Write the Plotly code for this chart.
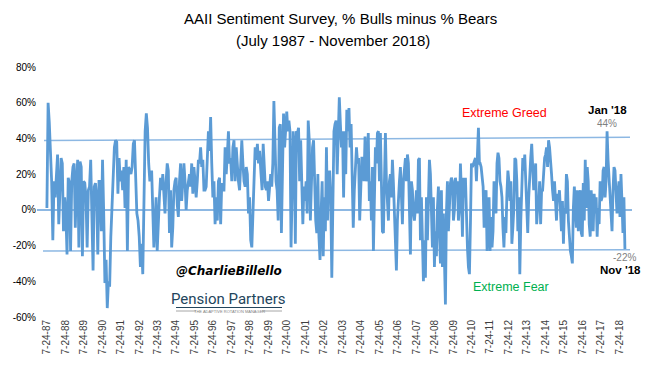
import pandas as pd
import numpy as np
import plotly.graph_objects as go

# ---- Data: AAII Bulls minus Bears spread (%), in segments ----
seg1_dates = ("1987-07-24", "1993-02-18")
seg1_vals = [1, 60, 49, 31, 16, -17, 16, 7, 20, 31, -8, 16, 29, 26, -12, 7, -2, -25, 18, 15,
             -23, 16, 24, 26, -10, 16, 28, -21, 27, 24, -26, 16, 15, 7, -21, 11, 13, 28, -8, -34,
             13, 15, 7, -25, 16, 16, -12, 28, -2, -41, -28, -55, -40, -43, -15, 0, 22, 35, 39, 38,
             9, 29, 16, 22, 11, 24, 1, 28, -23, 24, 22, 20, 24, 37, 39, 16, -2, -6, -15, -32,
             -19, -36, 20, 44, 54, 46, 26, 16]
seg2_dates = ("1993-03-25", "1999-01-28")
seg2_vals = [22, -6, -21, -8, 7, -23, -2, 7, 18, 11, 20, 5, -2, 16, 26, 22, -13, 11, -21, -10,
             11, 16, 18, 3, -4, 16, 26, 5, 15, 26, 16, 0, 11, 16, 20, 13, 26, 9, 24, 16,
             7, 16, 28, 26, 35, 24, 28, 11, 11, 13, 28, 44, 33, 52, 26, 7, 16, -8, 7, -6,
             16, 18, -8, 15, 11, 11, 35, 20, 31, 44, 26, 29, 16, 35, 39, 16, 35, 22, 16, 11,
             22, 39, 26, 16, 13, 24, 20, -2, 7, -17, -21, -2, 11, 35, 28, 37, 26, 33]
seg3_dates = ("1999-02-25", "2005-01-06")
seg3_vals = [20, 11, 37, 26, 13, 11, 16, 5, 16, 20, 13, 26, 61, 44, 16, 11, -6, 46, 48, -13,
             16, 54, 35, 50, 55, 44, 50, 44, -21, 9, 44, 35, -19, 44, 43, 46, 16, 39, 16, -8,
             13, 5, 16, -2, 50, 39, -6, 16, 35, 39, 11, -6, -13, 20, -15, -28, -2, 16, -26, 7,
             -12, 35, -6, 16, 22, 7, -38, 7, 44, 48, 50, 20, 50, 63, 48, 35, 44, 7, 44, 20,
             56, 44, 57, 35, 48, 16, -10, 11, 20, 35, 26, 29, -6, 7, 29, 29, 16, 41, 16, 24,
             43, 5]
seg4_dates = ("2005-01-27", "2010-12-23")
seg4_vals = [16, -6, 24, -23, 16, 35, 26, 43, 44, 16, 43, 7, -12, -13, 26, 43, 16, 1, -6, 16,
             20, 7, 28, 15, -6, -21, -34, -6, 11, 16, 24, 7, -8, 16, 24, 29, 16, 31, 26, -12,
             -25, 16, 11, -2, -6, 1, 11, -2, 28, 29, -17, 7, -21, -40, -17, -38, 7, -17, 5, 28,
             20, -10, -21, 7, -32, -12, -26, 1, 13, -12, -30, 11, -32, -2, -36, -53, -2, 16, -12, 7,
             15, 18, 16, -6, 0, 18, 13, 16, -6, 1, 26, 9, -15, 18, 7, 18, -10, -21, -32, -36,
             -8, 26, 24, 26, 28, 29, 16, 35, 46, 26]
seg5_dates = ("2011-01-06", "2018-11-08")
seg5_vals = [26, 24, 16, 13, -10, 7, 11, -23, -2, 7, -23, -4, -21, -12, 16, 5, -2, 26, 32, 29,
             16, 13, 7, -10, -21, -4, -13, 9, 22, 16, 5, 16, -19, -10, 1, 29, 28, 16, -12, 7,
             -36, -6, 16, 29, 22, 31, 16, 5, -13, 7, 22, 29, 37, 26, 11, 20, 26, -8, 1, 3,
             16, -8, 11, 11, 20, 29, 31, 35, 24, 39, 35, 29, 20, 11, 5, 16, 7, -6, 9, 5,
             11, -2, -12, 5, -19, 1, -2, 20, 16, -6, -15, -23, -26, -30, 1, 13, 0, -10, 11, -12,
             7, 11, -13, -15, 15, -6, 28, 1, 24, 16, -8, -15, 11, 1, -12, 9, -2, 7, -15, 1,
             -8, 16, 5, 7, 22, 24, 7, 16, 44, 28, 18, 15, 5, -12, 11, 24, 22, 13, -2, 9,
             16, -4, 20, 5, -13, 7, -22]

segments = [(seg1_dates, seg1_vals), (seg2_dates, seg2_vals), (seg3_dates, seg3_vals),
            (seg4_dates, seg4_vals), (seg5_dates, seg5_vals)]

tick_labels = ["7-24-87", "7-24-88", "7-24-89", "7-24-90", "7-24-91", "7-24-92", "7-24-93",
               "7-24-94", "7-24-95", "7-24-96", "7-24-97", "7-24-98", "7-24-99", "7-24-00",
               "7-24-01", "7-24-02", "7-24-03", "7-24-04", "7-24-05", "7-24-06", "7-24-07",
               "7-24-08", "7-24-09", "7-24-10", "7-24-11", "7-24-12", "7-24-13", "7-24-14",
               "7-24-15", "7-24-16", "7-24-17", "7-24-18"]
y_ticks = [-60, -40, -20, 0, 20, 40, 60, 80]

greed_level = (38.8, 40.6)   # start, end of the "Extreme Greed" reference line
fear_level = (-23.0, -22.3)  # start, end of the "Extreme Fear" reference line
jan18_value = 44
nov18_value = -22

# ---- Build series ----
dates = []
vals = []
for (d0, d1), v in segments:
    dates.extend(pd.date_range(d0, d1, periods=len(v)))
    vals.extend(v)
dates = pd.DatetimeIndex(dates)
vals = np.array(vals, dtype=float)

tick_dates = pd.to_datetime(tick_labels, format="%m-%d-%y")

# Layout geometry: page pixels; the page body has an 8px margin
OFF = 8
PAGE_W, PAGE_H = 670, 386
W, H = PAGE_W - OFF, PAGE_H - OFF
PL, PR, PT, PB = 37, 632, 67, 317          # plot area in page pixels
ML, MR, MT, MB = PL - OFF, PAGE_W - PR, PT - OFF, PAGE_H - PB
PW, PH = PR - PL, PB - PT


def px(x):
    return (x - PL) / PW


def py(y):
    return (PB - y) / PH


BLUE = "#5B9BD5"
REF = "#8DB8E3"
FONT = "Liberation Sans, Arial, sans-serif"

fig = go.Figure()
fig.add_trace(go.Scatter(x=dates, y=vals, mode="lines",
                         line=dict(color=BLUE, width=2.8), hoverinfo="skip",
                         showlegend=False))

shapes = [
    dict(type="line", xref="paper", yref="y", x0=px(44), x1=px(630),
         y0=greed_level[0], y1=greed_level[1], line=dict(color=REF, width=1.5), layer="below"),
    dict(type="line", xref="paper", yref="y", x0=px(43), x1=px(630),
         y0=fear_level[0], y1=fear_level[1], line=dict(color=REF, width=1.5), layer="below"),
    dict(type="line", xref="paper", yref="paper", x0=px(176), x1=px(196), y0=py(311), y1=py(311),
         line=dict(color="#A6A6A6", width=1)),
    dict(type="line", xref="paper", yref="paper", x0=px(262), x1=px(282), y0=py(311), y1=py(311),
         line=dict(color="#A6A6A6", width=1)),
    dict(type="line", xref="paper", yref="paper", x0=px(176), x1=px(282), y0=py(307.5), y1=py(307.5),
         line=dict(color="#23455C", width=1)),
]

i_jan = int(np.argmax(vals[-30:])) + len(vals) - 30


def txt(text, x, y, size, color, family=FONT, xref="paper"):
    return dict(text=text, xref=xref, yref="paper", x=x, y=py(y), showarrow=False,
                xanchor="center", yanchor="middle",
                font=dict(family=family, size=size, color=color))


annotations = [
    txt("AAII Sentiment Survey, % Bulls minus % Bears", px(340), 18, 15, "#000000"),
    txt("(July 1987 - November 2018)", px(333), 41, 15, "#000000"),
    txt("Extreme Greed", px(504), 113, 12.5, "#FF0000"),
    txt("Extreme Fear", px(511), 287, 12.5, "#00B050"),
    txt("<b>Jan '18</b>", dates[i_jan], 110, 11.5, "#000000", xref="x"),
    txt(f"{jan18_value}%", dates[i_jan], 123, 10, "#7F7F7F", xref="x"),
    txt(f"{nov18_value}%", px(624), 257, 10, "#7F7F7F"),
    txt("<b>Nov '18</b>", px(620), 270, 11.5, "#000000"),
    txt("<b><i>@CharlieBillello</i></b>", px(229), 271, 12, "#000000",
        family="DejaVu Sans, sans-serif"),
    txt("Pension Partners", px(228), 299, 15, "#23455C", family="Roboto, Liberation Sans, sans-serif"),
    txt("THE ADAPTIVE ROTATION MANAGER", px(229), 311, 4, "#7F7F7F"),
]

fig.update_layout(
    width=W, height=H,
    margin=dict(l=ML, r=MR, t=MT, b=MB, pad=0, autoexpand=False),
    paper_bgcolor="white", plot_bgcolor="white",
    showlegend=False,
    shapes=shapes, annotations=annotations,
    xaxis=dict(type="date", range=["1987-01-09", "2019-03-28"], automargin=False,
               tickvals=tick_dates, ticktext=tick_labels, tickangle=-90,
               showgrid=False, zeroline=False, showline=False, ticks="",
               tickfont=dict(family=FONT, size=10, color="#404040")),
    yaxis=dict(range=[-60, 80], tickvals=y_ticks, automargin=False,
               ticktext=[f"{t}%" for t in y_ticks],
               showgrid=False, zeroline=True, zerolinecolor=REF, zerolinewidth=1.5,
               showline=False, ticks="",
               tickfont=dict(family=FONT, size=10, color="#000000")),
)

fig.write_html("out.html")
